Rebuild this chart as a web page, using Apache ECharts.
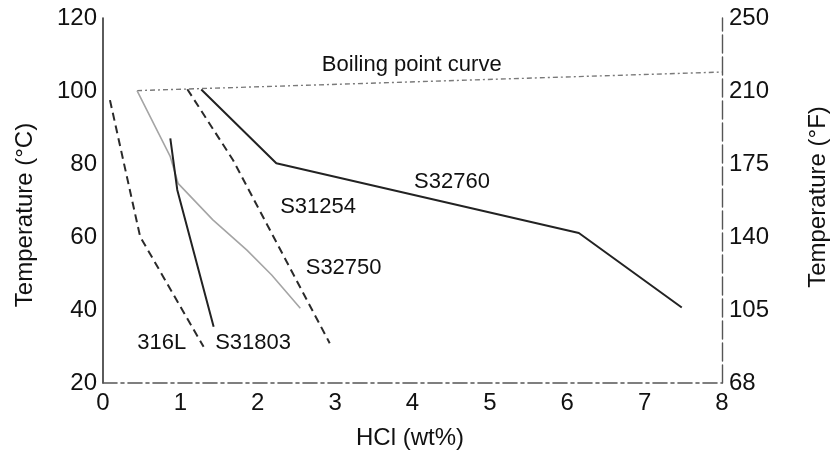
<!DOCTYPE html>
<html>
<head>
<meta charset="utf-8">
<script src="https://cdn.jsdelivr.net/npm/echarts@6/dist/echarts.min.js"></script>
<style>
html,body{margin:0;padding:0;background:#fff;}
#chart{width:836px;height:454px;}
</style>
</head>
<body>
<div id="chart"></div>
<script>
// ---- data ----
const xMin = 0, xMax = 8, xStep = 1;
const yMin = 20, yMax = 120, yStep = 20;
const rightTickLabels = ['68', '105', '140', '175', '210', '250'];

const boilingCurve = [[0.44, 100.1], [8.0, 105.2]];
const s32760 = [[1.27, 100.4], [2.24, 80.2], [6.15, 61.1], [7.48, 40.7]];
const s31254 = [[1.09, 100.5], [1.68, 81.1], [2.93, 30.9]];
const s32750 = [[0.44, 100.1], [0.87, 82.0], [0.97, 74.7], [1.42, 64.7], [1.86, 56.4], [2.18, 49.6], [2.55, 40.5]];
const s31803 = [[0.87, 87.0], [0.96, 72.9], [1.43, 35.4]];
const l316 = [[0.09, 97.5], [0.48, 60.1], [1.30, 29.9]];

const labelTexts = ['Boiling point curve', 'S32760', 'S31254', 'S32750', '316L', 'S31803'];
const labelX = [3.99, 4.51, 2.78, 3.11, 0.76, 1.94];
const labelY = [107.1, 75.1, 68.2, 51.5, 31.0, 31.0];

const xTitle = 'HCl (wt%)';
const leftTitle = 'Temperature (°C)';
const rightTitle = 'Temperature (°F)';

// ---- chart ----
const FONT = '"Liberation Sans", Arial, Helvetica, sans-serif';
const chart = echarts.init(document.getElementById('chart'));

function lineSeries(data, color, width, type) {
  return {
    type: 'line', data: data, symbol: 'none', silent: true, animation: false,
    lineStyle: { color: color, width: width, type: type },
    xAxisIndex: 0, yAxisIndex: 0, z: 3
  };
}

const option = {
  animation: false,
  backgroundColor: '#ffffff',
  grid: { left: 103, right: 114, top: 18, bottom: 71, containLabel: false },
  xAxis: {
    type: 'value', min: xMin, max: xMax, interval: xStep,
    axisLine: { show: true, onZero: false, lineStyle: { color: '#555', width: 1.6, type: [14, 4, 3, 4] } },
    axisTick: { show: false },
    splitLine: { show: false },
    axisLabel: { color: '#111', fontSize: 24, fontFamily: FONT, margin: 8 }
  },
  yAxis: [{
    type: 'value', min: yMin, max: yMax, interval: yStep, position: 'left',
    axisLine: { show: true, onZero: false, lineStyle: { color: '#333', width: 1.6 } },
    axisTick: { show: false },
    splitLine: { show: false },
    axisLabel: { color: '#111', fontSize: 24, fontFamily: FONT, margin: 6 }
  }, {
    type: 'value', min: yMin, max: yMax, interval: yStep, position: 'right',
    axisLine: { show: true, onZero: false, lineStyle: { color: '#555', width: 1.4, type: [18, 4] } },
    axisTick: { show: false },
    splitLine: { show: false },
    axisLabel: {
      color: '#111', fontSize: 24, fontFamily: FONT, margin: 7,
      formatter: function (v) { return rightTickLabels[Math.round((v - yMin) / yStep)]; }
    }
  }],
  graphic: [
    { type: 'text', position: [410, 438], style: { text: xTitle, font: '24px ' + FONT, fill: '#111', align: 'center', verticalAlign: 'middle' } },
    { type: 'text', position: [25, 215], rotation: Math.PI / 2, style: { text: leftTitle, font: '24px ' + FONT, fill: '#111', align: 'center', verticalAlign: 'middle' } },
    { type: 'text', position: [818, 197], rotation: Math.PI / 2, style: { text: rightTitle, font: '24px ' + FONT, fill: '#111', align: 'center', verticalAlign: 'middle' } }
  ],
  series: [
    lineSeries(boilingCurve, '#7a7a7a', 1.4, [5, 3, 2, 3]),
    lineSeries(s32760, '#222', 2, 'solid'),
    lineSeries(s31254, '#2a2a2a', 2, [8, 5]),
    lineSeries(s32750, '#a5a5a5', 1.6, 'solid'),
    lineSeries(s31803, '#222', 2, 'solid'),
    lineSeries(l316, '#2a2a2a', 2, [8, 5]),
    {
      type: 'scatter', symbolSize: 0, silent: true, animation: false, z: 5,
      itemStyle: { color: '#111', opacity: 1 },
      data: labelTexts.map(function (t, i) { return { value: [labelX[i], labelY[i]], name: t }; }),
      label: {
        show: true, position: 'inside', formatter: function (p) { return p.name; },
        color: '#111', fontSize: 22, fontFamily: FONT, textBorderWidth: 0, opacity: 1
      }
    }
  ]
};
chart.setOption(option);
</script>
</body>
</html>
